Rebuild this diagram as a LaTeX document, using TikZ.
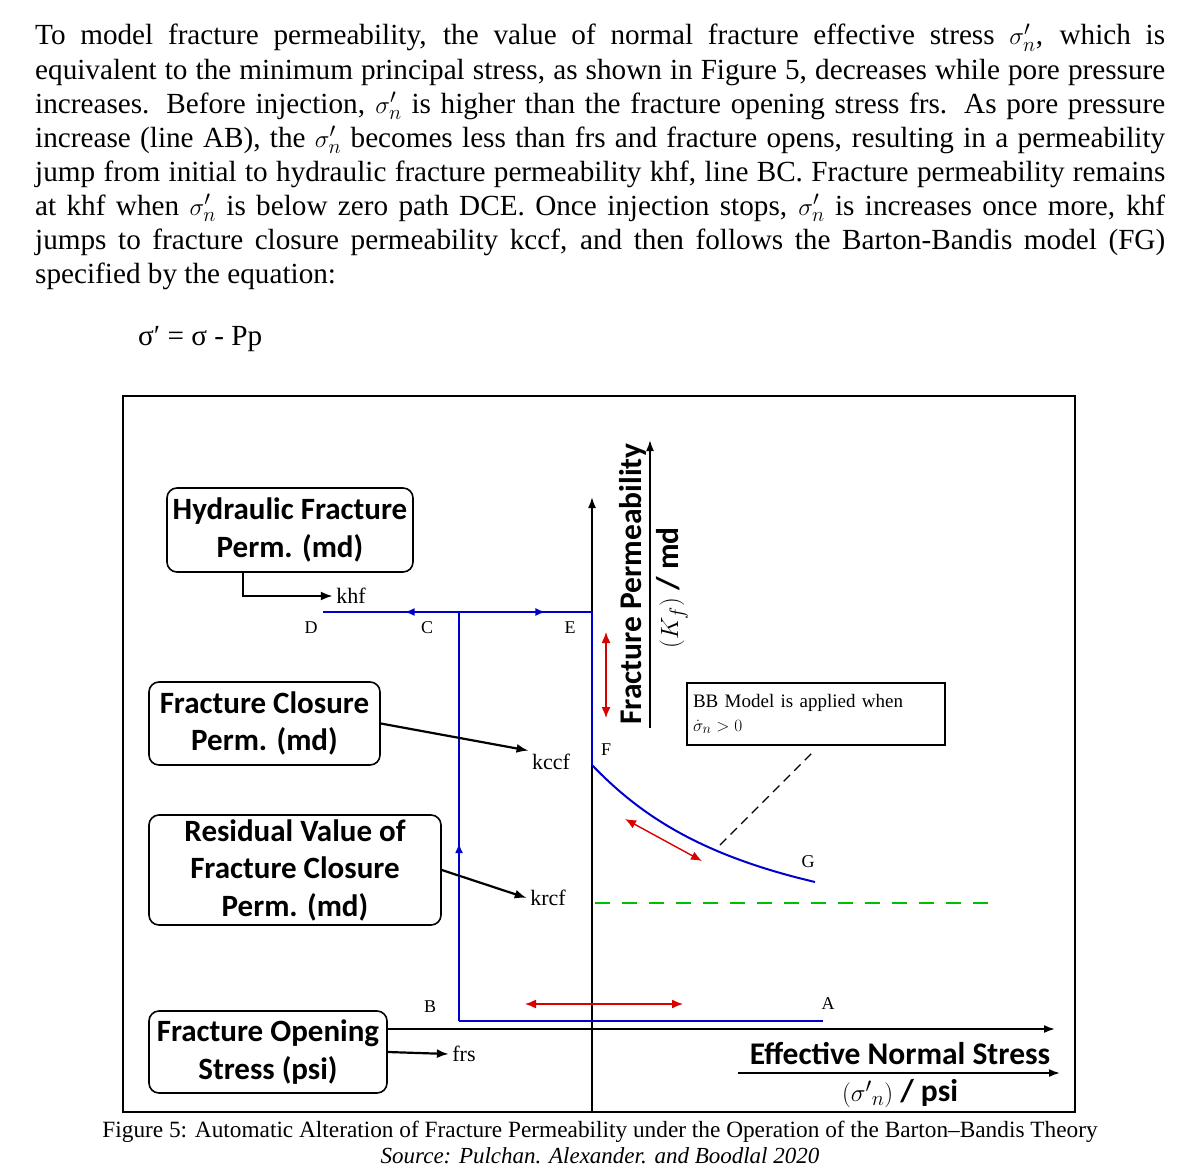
\documentclass[tikz,border=0pt]{standalone}
\usepackage{amsmath}
\usepackage{fontspec}
\setmainfont{Liberation Serif}
\newfontfamily\calibri{Carlito}
\usepackage{tikz}
\usetikzlibrary{arrows.meta, decorations.markings}

\begin{document}
\begin{tikzpicture}[x=1pt, y=-1pt,
    textline/.style={anchor=base west, inner sep=0pt, font=\fontsize{29.2}{34}\selectfont},
    permbox/.style={draw, line width=1.6pt, rounded corners=10pt, align=center, inner sep=2pt,
      font=\calibri\bfseries\fontsize{31}{37.5}\selectfont},
    axislabel/.style={font=\calibri\bfseries\fontsize{31.5}{32}\selectfont},
    axis/.style={line width=1.8pt, -{Latex[length=11pt,width=8pt]}},
    pathline/.style={blue!80!black, line width=2pt},
    pointer/.style={line width=2.2pt, -{Latex[length=12pt,width=9pt]}},
    redarrow/.style={red!85!black, line width=1.4pt, {Latex[length=11pt,width=9pt]}-{Latex[length=11pt,width=9pt]}},
    ptlabel/.style={font=\fontsize{18}{20}\selectfont},
    klabel/.style={font=\fontsize{22}{24}\selectfont},
    midarrow/.style={postaction={decorate, decoration={markings,
      mark=at position #1 with {\arrow{Latex[length=10pt,width=8pt]}}}}}]
  \useasboundingbox (0,0) rectangle (1202,1164);

  % Texto
  \foreach \txt [count=\i] in {
      {To model fracture permeability, the value of normal fracture effective stress $\sigma'_n$, which is},
      {equivalent to the minimum principal stress, as shown in Figure 5, decreases while pore pressure},
      {increases. Before injection, $\sigma'_n$ is higher than the fracture opening stress frs. As pore pressure},
      {increase (line AB), the $\sigma'_n$ becomes less than frs and fracture opens, resulting in a permeability},
      {jump from initial to hydraulic fracture permeability khf, line BC. Fracture permeability remains},
      {at khf when $\sigma'_n$ is below zero path DCE. Once injection stops, $\sigma'_n$ is increases once more, khf},
      {jumps to fracture closure permeability kccf, and then follows the Barton-Bandis model (FG)}}
    \node[textline] (line\i) at (35, 11+34*\i) {\makebox[1130pt][s]{\txt}};
  \node[textline] (line8) at (35,283) {specified by the equation:};
  \node[textline] (eqn) at (138,345) {σ′ = σ - Pp};

  % Figura
  \draw[line width=1.3pt] (123,396) rectangle (1075,1112);
  \node[font=\fontsize{23.3}{26}\selectfont, anchor=base] (caption) at (600,1137)
    {Figure 5: Automatic Alteration of Fracture Permeability under the Operation of the Barton–Bandis Theory};
  \node[font=\itshape\fontsize{23}{26}\selectfont, anchor=base] (source) at (600,1163)
    {Source: Pulchan. Alexander. and Boodlal 2020};

  % Eixos
  \coordinate (O) at (592,1112);
  \coordinate (Ytop) at (592,497);
  \coordinate (Xstart) at (388,1029);
  \coordinate (Xend) at (1055,1029);
  \draw[axis] (O) -- (Ytop);
  \draw[axis] (Xstart) -- (Xend);
  \node[axislabel, rotate=90] (ylab) at (633,584) {Fracture Permeability};
  \coordinate (Ybar0) at (650,728);
  \coordinate (Ybar1) at (650,440);
  \draw[axis] (Ybar0) -- (Ybar1);
  \node[axislabel, rotate=90] (yunit) at (672,588) {$(K_f)$ / md};
  \node[axislabel] (xlab) at (900,1054) {Effective Normal Stress};
  \coordinate (Xbar0) at (738,1073);
  \coordinate (Xbar1) at (1060,1073);
  \draw[axis] (Xbar0) -- (Xbar1);
  \node[axislabel] (xunit) at (900,1094) {$(\sigma'{}_{n})$ / psi};

  % Caminho ABCDEFG
  \coordinate (A) at (823,1021);
  \coordinate (B) at (459,1021);
  \coordinate (C) at (459,612);
  \coordinate (D) at (323,612);
  \coordinate (E) at (592,612);
  \coordinate (F) at (592,765);
  \coordinate (G) at (815,882);
  \draw[pathline] (A) -- (B);
  \draw[pathline, midarrow=0.435] (B) -- (C);
  \draw[pathline, midarrow=0.4] (C) -- (D);
  \draw[pathline, midarrow=0.65] (C) -- (E);
  \draw[pathline] (E) -- (F);
  \draw[pathline] (F) .. controls (640,815) and (700,855) .. (G);
  \node[ptlabel] (labA) at (828,1004) {A};
  \node[ptlabel] (labB) at (430,1007) {B};
  \node[ptlabel] (labC) at (427,628) {C};
  \node[ptlabel] (labD) at (311,628) {D};
  \node[ptlabel] (labE) at (570,628) {E};
  \node[ptlabel] (labF) at (606,750) {F};
  \node[ptlabel] (labG) at (808,862) {G};

  % Setas vermelhas
  \coordinate (r1a) at (606,632);
  \coordinate (r1b) at (606,718);
  \coordinate (r2a) at (625,819);
  \coordinate (r2b) at (702,861);
  \coordinate (r3a) at (525,1004);
  \coordinate (r3b) at (683,1004);
  \draw[redarrow] (r1a) -- (r1b);
  \draw[redarrow] (r2a) -- (r2b);
  \draw[redarrow] (r3a) -- (r3b);

  % krcf
  \coordinate (g0) at (595,903);
  \coordinate (g1) at (995,903);
  \draw[green!75!black, line width=2.2pt, dash pattern=on 15pt off 12pt] (g0) -- (g1);

  % Modelo BB
  \node[draw, line width=1.4pt, text width=246pt, minimum height=62pt, align=left, inner sep=6pt,
    font=\fontsize{19}{24}\selectfont] (bb) at (816,714)
    {BB Model is applied when\\$\dot{\sigma}_{n} > 0$};
  \coordinate (bbtail) at (813,752);
  \coordinate (curvept) at (720,845);
  \draw[dashed, line width=1.3pt, dash pattern=on 9pt off 6pt] (curvept) -- (bbtail);

  % Caixas
  \node[permbox, minimum width=246pt, minimum height=84pt] (hfp) at (290,530) {Hydraulic Fracture\\Perm. (md)};
  \node[permbox, minimum width=231pt, minimum height=83pt] (fcp) at (264.5,723.5) {Fracture Closure\\Perm. (md)};
  \node[permbox, minimum width=292pt, minimum height=110pt] (rvp) at (295,870)
    {Residual Value of\\Fracture Closure\\Perm. (md)};
  \node[permbox, minimum width=238pt, minimum height=82pt] (fos) at (268,1052) {Fracture Opening\\Stress (psi)};

  \node[klabel] (khf) at (351,596) {khf};
  \node[klabel] (kccf) at (551,762) {kccf};
  \node[klabel] (krcf) at (548,898) {krcf};
  \node[klabel] (frs) at (464,1054) {frs};
  \draw[pointer] ([xshift=-47pt]hfp.south) |- (khf.west);
  \draw[pointer] (fcp.east) -- (kccf.north west);
  \draw[pointer] (rvp.east) -- (krcf.west);
  \draw[pointer] (fos.east) -- (frs.west);
\end{tikzpicture}
\end{document}
